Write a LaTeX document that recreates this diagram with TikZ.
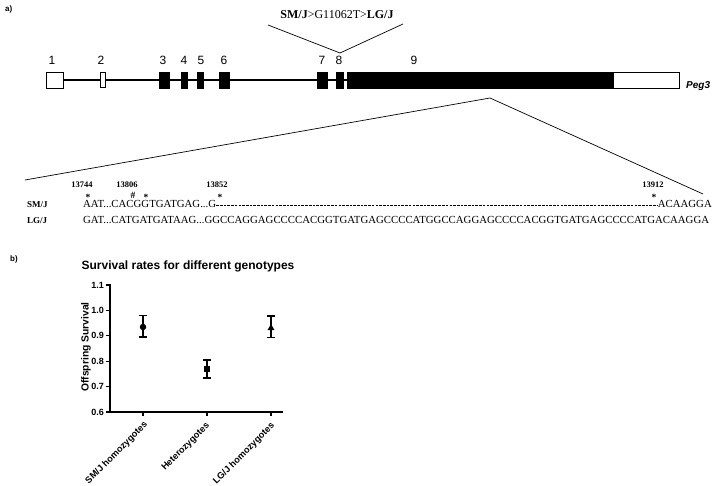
\documentclass[tikz,border=0pt]{standalone}
\usepackage{fontspec}
\setmainfont{Liberation Serif}
\setsansfont{Liberation Sans}
\usetikzlibrary{shapes.geometric}
\begin{document}
\begin{tikzpicture}[x=1pt,y=-1pt,
  exonbox/.style={draw=black, line width=0.6pt, fill=black, minimum height=16pt, inner sep=0pt},
  utrbox/.style={draw=black, line width=0.6pt, fill=white, minimum height=16pt, inner sep=0pt},
  exnum/.style={font=\sffamily\fontsize{12}{12}\selectfont, inner sep=0pt},
  intron/.style={line width=2.6pt},
  thinintron/.style={line width=1.1pt},
  thinline/.style={line width=0.7pt},
  seqtext/.style={font=\fontsize{10.8}{11}\selectfont, inner sep=0pt},
  seqlab/.style={font=\bfseries\fontsize{9}{10}\selectfont, inner sep=0pt},
  poslab/.style={font=\bfseries\fontsize{8.5}{9}\selectfont, inner sep=0pt},
  starmark/.style={font=\bfseries\fontsize{9.5}{10}\selectfont, inner sep=0pt},
  panellab/.style={font=\sffamily\bfseries\fontsize{8}{8}\selectfont, inner sep=0pt},
  ticklab/.style={font=\sffamily\bfseries\fontsize{9}{9}\selectfont, inner sep=0pt, anchor=east},
  catlab/.style={font=\sffamily\bfseries\fontsize{9.2}{10}\selectfont, inner sep=0pt, rotate=45, anchor=base east},
  axisline/.style={line width=1.6pt},
  ebar/.style={line width=1.6pt},
]
\useasboundingbox (0,0) rectangle (720,486);

% panel labels
\node[panellab, anchor=west] (pa) at (5,9) {a)};
\node[panellab, anchor=west] (pb) at (10,259) {b)};

% ---------- gene structure ----------
\node[utrbox,  minimum width=17pt] (e1) at (54.5,80) {};
\node[utrbox,  minimum width=5pt, minimum height=15pt] (e2) at (102.5,80) {};
\node[exonbox, minimum width=10pt] (e3) at (164,80) {};
\node[exonbox, minimum width=6pt] (e4) at (184,80) {};
\node[exonbox, minimum width=6pt] (e5) at (200,80) {};
\node[exonbox, minimum width=10pt] (e6) at (224,80) {};
\node[exonbox, minimum width=10pt] (e7) at (322,80) {};
\node[exonbox, minimum width=7pt] (e8) at (339.5,80) {};
\node[exonbox, minimum width=266pt] (e9) at (480,80) {};
\node[utrbox,  minimum width=66pt] (e9u) at (646,80) {};

\coordinate (ta) at (253,80);
\coordinate (tb) at (300,80);
\draw[intron] (e1.east) -- (e2.west);
\draw[intron] (e2.east) -- (e3.west);
\draw[intron] (e3.east) -- (e4.west);
\draw[intron] (e4.east) -- (e5.west);
\draw[intron] (e5.east) -- (e6.west);
\draw[intron] (e6.east) -- (ta);
\draw[thinintron] (ta) -- (tb);
\draw[intron] (tb) -- (e7.west);
\draw[intron] (e7.east) -- (e8.west);
\draw[intron] (e8.east) -- (e9.west);

\node[exnum] (n1) at (52,60) {1};
\node[exnum] (n2) at (101,60) {2};
\node[exnum] (n3) at (163,60) {3};
\node[exnum] (n4) at (184,60) {4};
\node[exnum] (n5) at (201,60) {5};
\node[exnum] (n6) at (224,60) {6};
\node[exnum] (n7) at (322,60) {7};
\node[exnum] (n8) at (339,60) {8};
\node[exnum] (n9) at (414,60) {9};

\node[font=\sffamily\bfseries\itshape\fontsize{10}{10}\selectfont, anchor=west, inner sep=0pt] (peg) at (686,86) {Peg3};

% mutation label
\node[font=\fontsize{12}{13}\selectfont, inner sep=0pt] (mut) at (337,15) {\textbf{SM/J}>G11062T>\textbf{LG/J}};
\coordinate (vl) at (268,25);
\coordinate (va) at (340,53);
\coordinate (vr) at (403,24);
\draw[thinline] (vl) -- (va) -- (vr);

% zoom lines
\coordinate (za) at (490,98);
\coordinate (zl) at (25,180);
\coordinate (zr) at (703,194);
\draw[thinline] (zl) -- (za) -- (zr);

% ---------- sequences ----------
\node[seqlab, anchor=base west] (lsm) at (27,208) {SM/J};
\node[seqlab, anchor=base west] (llg) at (27,224) {LG/J};

\node[seqtext, anchor=base west] (sm1) at (83,208) {AAT...CACGGTGATGAG...G};
\node[seqtext, anchor=base east] (sm2) at (712,208) {ACAAGGA};
\draw[line width=0.5pt, dash pattern=on 2.6pt off 1.1pt] ([yshift=3pt]sm1.base east) -- ([yshift=3pt]sm2.base west);

\node[seqtext, anchor=base west] (lg) at (83,224) {GAT...CATGATGATAAG...GGCCAGGAGCCCCACGGTGATGAGCCCCATGGCCAGGAGCCCCACGGTGATGAGCCCCATGACAAGGA};

\node[poslab, anchor=base] (p1) at (82,188) {13744};
\node[poslab, anchor=base] (p2) at (127,188) {13806};
\node[poslab, anchor=base] (p3) at (217,188) {13852};
\node[poslab, anchor=base] (p4) at (653,188) {13912};

\node[starmark, anchor=base] (s1) at (88,201) {*};
\node[starmark, anchor=base] (h2) at (133,199) {\#};
\node[starmark, anchor=base] (s2) at (146,201) {*};
\node[starmark, anchor=base] (s3) at (220,201) {*};
\node[starmark, anchor=base] (s4) at (654,201) {*};

% ---------- plot ----------
\node[font=\sffamily\bfseries\fontsize{12}{13}\selectfont, inner sep=0pt] (title) at (188,266) {Survival rates for different genotypes};

\coordinate (ytop) at (110,284);
\coordinate (org) at (110,412);
\coordinate (xend) at (283,412);
\draw[axisline] (ytop) -- (org) -- (xend);

\foreach \v/\lab/\k in {0.6/0.6/a,0.7/0.7/b,0.8/0.8/c,0.9/0.9/d,1.0/1.0/e,1.1/1.1/f}{
  \pgfmathsetmacro{\yy}{412-(\v-0.6)*254}
  \coordinate (tk\k) at (110,\yy);
  \draw[line width=1.3pt] (tk\k) -- ++(-4,0) coordinate (tl\k);
  \node[ticklab] (tn\k) at ([xshift=-2pt]tl\k) {\lab};
}

\node[font=\sffamily\bfseries\fontsize{10.3}{11}\selectfont, rotate=90, inner sep=0pt] (ylab) at (86,347) {Offspring Survival};

\foreach \xx/\nm in {143/a,207/b,271/c}{
  \coordinate (ct\nm) at (\xx,412);
  \draw[line width=1.3pt] (ct\nm) -- ++(0,4);
}
\node[catlab] (c1) at (148,425) {SM/J homozygotes};
\node[catlab] (c2) at (210,426) {Heterozygotes};
\node[catlab] (c3) at (275,426) {LG/J homozygotes};

% data: SM/J
\coordinate (a1t) at (143,315.5);
\coordinate (a1b) at (143,337);
\draw[ebar] (a1t) -- (a1b);
\draw[ebar] ([xshift=-4pt]a1t) -- ([xshift=4pt]a1t);
\draw[ebar] ([xshift=-4pt]a1b) -- ([xshift=4pt]a1b);
\node[circle, fill=black, minimum size=6.5pt, inner sep=0pt] (d1) at (143,327) {};

% Het
\coordinate (a2t) at (207,360);
\coordinate (a2b) at (207,378);
\draw[ebar] (a2t) -- (a2b);
\draw[ebar] ([xshift=-4pt]a2t) -- ([xshift=4pt]a2t);
\draw[ebar] ([xshift=-4pt]a2b) -- ([xshift=4pt]a2b);
\node[rectangle, fill=black, minimum size=6pt, inner sep=0pt] (d2) at (207,369) {};

% LG/J
\coordinate (a3t) at (271,316);
\coordinate (a3b) at (271,337.5);
\draw[ebar] (a3t) -- (a3b);
\draw[ebar] ([xshift=-4pt]a3t) -- ([xshift=4pt]a3t);
\draw[ebar] ([xshift=-4pt]a3b) -- ([xshift=4pt]a3b);
\node[regular polygon, regular polygon sides=3, fill=black, minimum size=8pt, inner sep=0pt] (d3) at (271,328) {};

\end{tikzpicture}
\end{document}
